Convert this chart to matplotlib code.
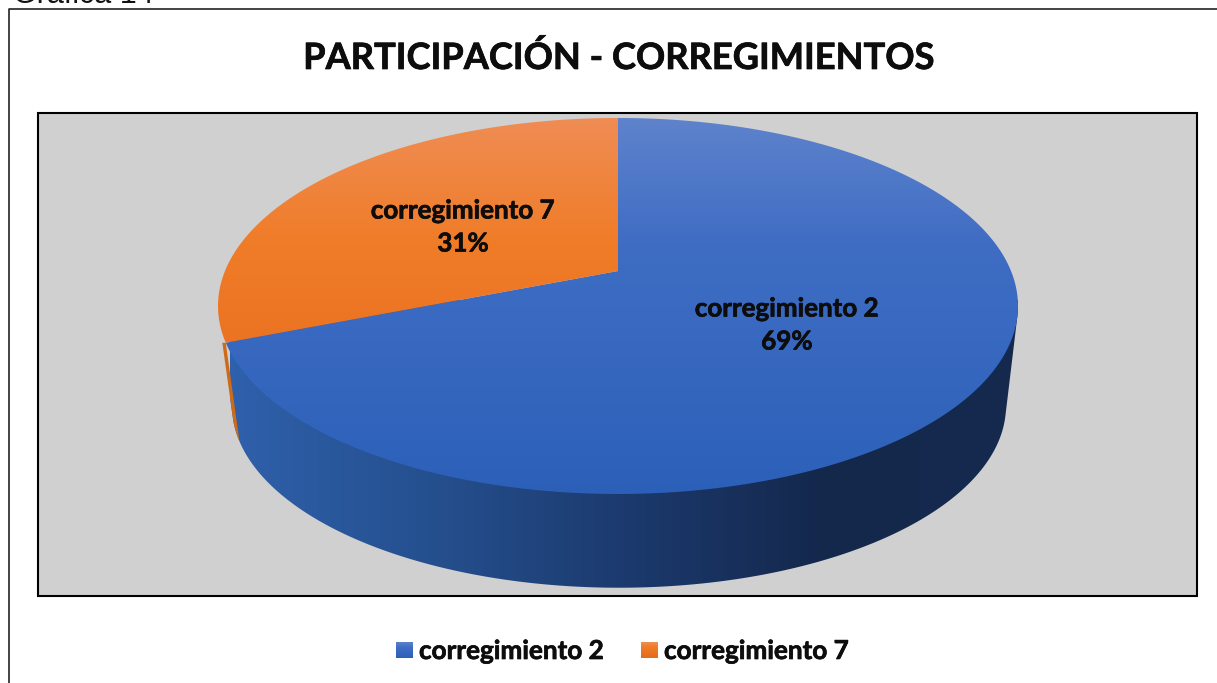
# Gráfica 14 - pie 3D participación por corregimiento

import numpy as np
import matplotlib
matplotlib.use("Agg")
import matplotlib.pyplot as plt
import matplotlib.patheffects as pe
from matplotlib.colors import LinearSegmentedColormap
from matplotlib.patches import Polygon

# datos
categorias = ["corregimiento 2", "corregimiento 7"]
participacion = [69, 31]
titulo = "PARTICIPACIÓN - CORREGIMIENTOS"
encabezado = "Gráfica 14"

# colores de los degradados
azul_tapa = ["#5f83cc", "#3f6dc4", "#3667bf", "#2c60b8"]
naranja_tapa = ["#ef8d55", "#f07c28", "#ea7120", "#e26c1a"]
azul_lado = ["#2f60ab", "#25508f", "#1c3a6e", "#14284c", "#152a4e"]
naranja_lado = "#cf6a17"
fuente = "Lato"
grueso = [pe.withStroke(linewidth=0.5, foreground="#0d0d0d")]


def proyectar(t, cx, cy, escala):
    # circulo unitario visto en perspectiva, t en sentido horario desde arriba
    u, v = np.sin(t), np.cos(t)
    d = 1 + 0.186 * v
    return np.column_stack([cx + 393 * escala * u / d, cy - 181.5 * escala * v / d])


def envolvente(pts):
    pts = sorted(map(tuple, pts))

    def mitad(seq):
        out = []
        for p in seq:
            while len(out) > 1 and np.cross(np.subtract(out[-1], out[-2]), np.subtract(p, out[-2])) <= 0:
                out.pop()
            out.append(p)
        return out[:-1]

    return np.array(mitad(pts) + mitad(pts[::-1]))


def degradado(ax, colores, extent, clip, horizontal=False):
    cmap = LinearSegmentedColormap.from_list("g", colores)
    z = np.linspace(0, 1, 256)
    z = z[None, :] if horizontal else z[:, None]
    im = ax.imshow(z, cmap=cmap, extent=extent, aspect="auto", origin="upper", zorder=2, interpolation="bilinear")
    im.set_clip_path(clip)
    return im


fig = plt.figure(figsize=(12.17, 6.83), dpi=100)
ax = fig.add_axes([0, 0, 1, 1])

# marco exterior y area del grafico
ax.plot([8.5, 8.5, 1217], [683, 8.5, 8.5], color="#222222", lw=1.2, zorder=1)
ax.add_patch(plt.Rectangle((38, 113), 1159, 483, facecolor="#d0d0d0", edgecolor="black", lw=1.5, zorder=1))

corte = 2 * np.pi * participacion[0] / sum(participacion)
todo = np.linspace(0, 2 * np.pi, 721)
CX, CY = 618, 271
CX2, CY2, ESC2 = 619, 372, 0.9675

# lateral
tapa = proyectar(todo, CX, CY, 1)
base = proyectar(todo, CX2, CY2, ESC2)
silueta = Polygon(envolvente(np.vstack([tapa, base])), closed=True, transform=ax.transData, fc="none", ec="none")
ax.add_patch(silueta)
degradado(ax, azul_lado, (230, 1020, 600, 300), silueta, horizontal=True)

# franja naranja: todo lo que queda a la izquierda de la arista del corte
p_arriba = proyectar(np.array([corte]), CX, CY, 1)[0]
p_abajo = proyectar(np.array([corte]), CX2, CY2, ESC2)[0]
lado_nar = Polygon([p_arriba, p_abajo, p_abajo - [60, 0], p_arriba - [60, 0]],
                   closed=True, fc=naranja_lado, ec="none", zorder=3)
ax.add_patch(lado_nar)
lado_nar.set_clip_path(silueta)

# tapa
t_azul = np.linspace(0, corte, 500)
t_naranja = np.linspace(corte, 2 * np.pi, 300)
for t, colores in [(t_azul, azul_tapa), (t_naranja, naranja_tapa)]:
    pts = np.vstack([[CX, CY], proyectar(t, CX, CY, 1)])
    p = Polygon(pts, closed=True, transform=ax.transData, fc="none", ec="none")
    ax.add_patch(p)
    im = degradado(ax, colores, (210, 1025, 496, 116), p)
    im.set_zorder(4)

# etiquetas de datos
pos_etq = [(787, 325), (463, 227)]
for cat, val, (x, y) in zip(categorias, participacion, pos_etq):
    ax.text(x, y, f"{cat}\n{val}%", ha="center", va="center", fontsize=18.7, fontweight="bold",
            family=fuente, color="#0d0d0d", linespacing=1.45, zorder=6, path_effects=grueso)

ax.text(618, 58, titulo, ha="center", va="center", fontsize=26.1, fontweight="bold", family=fuente,
        color="#0d0d0d", zorder=6, path_effects=grueso)
ax.text(13, 3, encabezado, ha="left", va="baseline", fontsize=22, family="Liberation Sans", color="#111111")

# leyenda
for cat, colores, x_cuad, x_txt in zip(categorias, [azul_tapa, naranja_tapa], [396, 641], [419, 664]):
    cuad = plt.Rectangle((x_cuad, 642), 17, 16, transform=ax.transData, fc="none", ec="none")
    ax.add_patch(cuad)
    degradado(ax, colores, (x_cuad, x_cuad + 17, 658, 642), cuad)
    ax.text(x_txt, 651, cat, ha="left", va="center", fontsize=18.8, fontweight="bold", family=fuente,
            color="#0d0d0d", path_effects=grueso)

ax.set_xlim(0, 1217)
ax.set_ylim(683, 0)
ax.axis("off")
fig.savefig("out.png", dpi=100)
